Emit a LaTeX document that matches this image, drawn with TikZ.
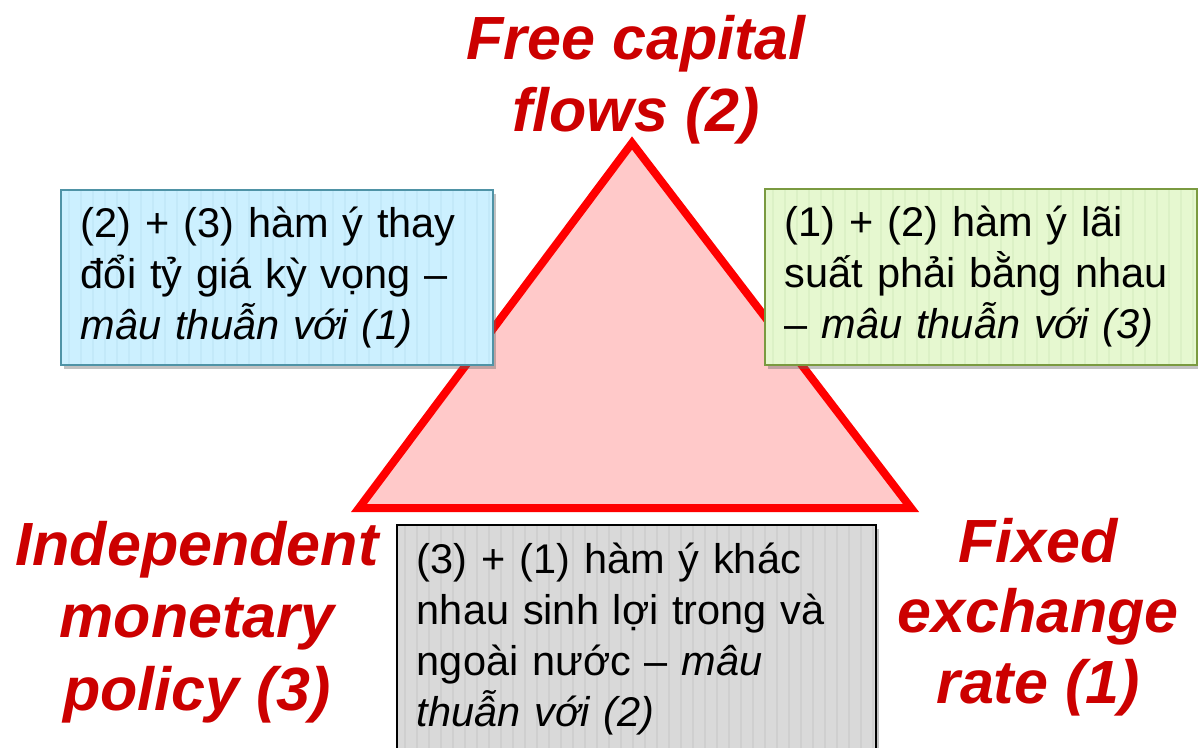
\documentclass[tikz,border=0pt]{standalone}
\usepackage{fontspec}
\setmainfont{Liberation Sans}
\usetikzlibrary{shadows}
\definecolor{titlered}{HTML}{CC0000}
\definecolor{trired}{HTML}{FF0000}
\definecolor{tripink}{HTML}{FFC9C9}
\definecolor{bluefill}{HTML}{CCF0FF}
\definecolor{blueline}{HTML}{4F93A6}
\definecolor{bluestripe}{HTML}{C3E9F9}
\definecolor{greenfill}{HTML}{E6F8D0}
\definecolor{greenline}{HTML}{7A9A40}
\definecolor{greenstripe}{HTML}{DCF1C6}
\definecolor{grayfill}{HTML}{D9D9D9}
\definecolor{graystripe}{HTML}{CFCFCF}
\tikzset{
  titletext/.style={text=titlered, font=\bfseries\itshape\fontsize{61}{72}\selectfont, align=center, inner sep=0pt},
  notebox/.style={anchor=north west, align=left, inner xsep=20pt, inner ysep=0pt,
    font=\fontsize{41.5}{51}\selectfont, text=black, line width=1.8pt,
    drop shadow={shadow xshift=3pt, shadow yshift=-4pt, opacity=0.4, fill=black!60}},
  stripes/.style={path picture={
    \foreach \k in {0,...,45}{
      \draw[#1, line width=2pt]
        ([xshift=\k*12pt+8pt]path picture bounding box.north west) --
        ([xshift=\k*12pt+8pt]path picture bounding box.south west);}}},
  tri/.style={draw=trired, fill=tripink, line width=8pt, line join=miter}
}
\begin{document}
\begin{tikzpicture}[x=1pt,y=-1pt]
\useasboundingbox (0,0) rectangle (1198,747);
\clip (0,0) rectangle (1198,747);
% triangle
\coordinate (apex) at (632,143);
\coordinate (bl) at (359,508);
\coordinate (br) at (911,508);
\draw[tri] (apex) -- (bl) -- (br) -- cycle;
% boxes
\node[notebox, fill=bluefill, draw=blueline, stripes=bluestripe, text width=392pt, minimum height=175pt] (bluebox) at (60,189)
  {(2) + (3) hàm ý thay\\ đổi tỷ giá kỳ vọng –\\ \textit{mâu thuẫn với (1)}};
\node[notebox, fill=greenfill, draw=greenline, stripes=greenstripe, text width=392pt, minimum height=176pt] (greenbox) at (764,188)
  {(1) + (2) hàm ý lãi\\ suất phải bằng nhau\\ – \textit{mâu thuẫn với (3)}};
\node[notebox, fill=grayfill, draw=black, stripes=graystripe, text width=439pt, minimum height=228pt] (graybox) at (396,524)
  {(3) + (1) hàm ý khác\\ nhau sinh lợi trong và\\ ngoài nước – \textit{mâu}\\ \textit{thuẫn với (2)}};
% titles
\node[titletext] (free) at (636,80) {Free capital\\ flows (2)};
\node[titletext, font=\bfseries\itshape\fontsize{61}{72.5}\selectfont] (indep) at (197,622) {Independent\\ monetary\\ policy (3)};
\node[titletext, font=\bfseries\itshape\fontsize{61}{70.5}\selectfont] (fixed) at (1038,617) {Fixed\\ exchange\\ rate (1)};
\end{tikzpicture}
\end{document}
